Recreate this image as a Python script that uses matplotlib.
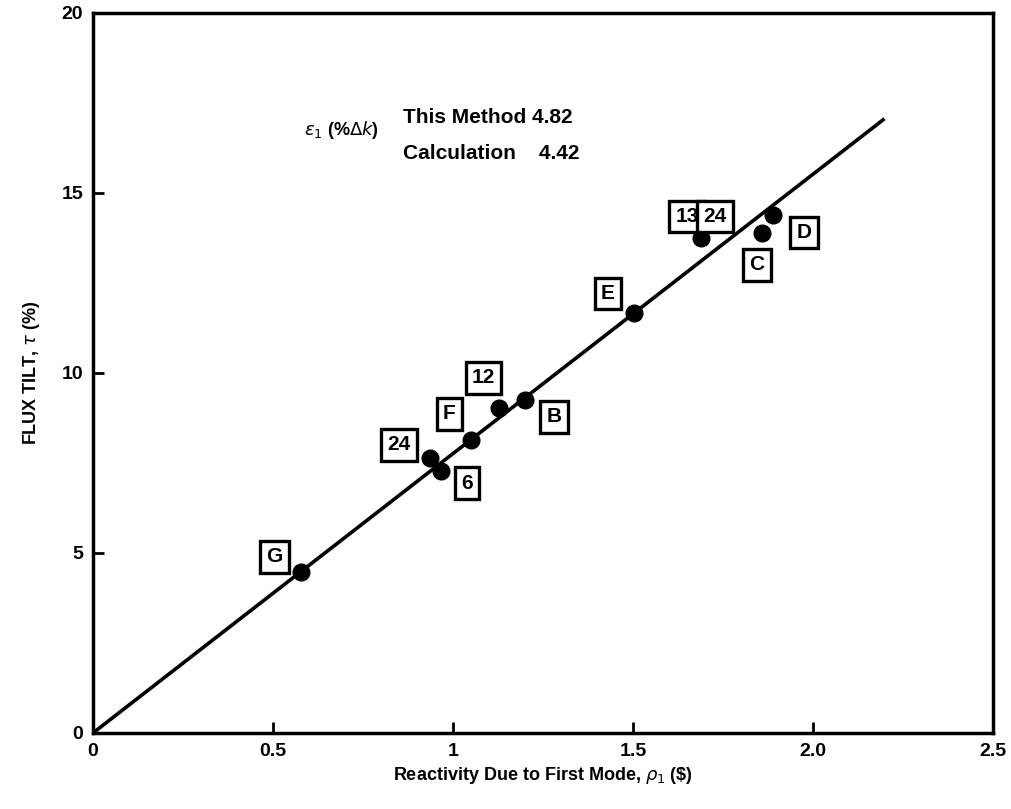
import matplotlib
matplotlib.use("Agg")
import matplotlib.pyplot as plt

plt.rcParams['font.family'] = ['Liberation Sans', 'DejaVu Sans']

# measured points (reactivity $, flux tilt %)
rho = [0.578, 0.937, 0.967, 1.05, 1.127, 1.20, 1.504, 1.69, 1.86, 1.89]
tilt = [4.47, 7.64, 7.28, 8.14, 9.03, 9.25, 11.67, 13.75, 13.9, 14.4]

# point labels and where their boxes sit
labels = ["G", "24", "6", "F", "12", "B", "E", "13", "24", "C", "D"]
label_x = [0.504, 0.85, 1.04, 0.99, 1.085, 1.28, 1.43, 1.65, 1.728, 1.845, 1.975]
label_y = [4.89, 8.0, 6.94, 8.86, 9.86, 8.78, 12.2, 14.35, 14.35, 13.0, 13.9]

# fitted line
fit_x = [0.0, 2.195]
fit_y = [0.0, 17.03]

fig = plt.figure(figsize=(10.11, 8.09), dpi=100)
ax = fig.add_axes([0.092, 0.094, 0.890, 0.890])

ax.plot(fit_x, fit_y, 'k-', lw=2.6)
ax.plot(rho, tilt, 'ko', ms=12)

for lab, lx, ly in zip(labels, label_x, label_y):
    ax.text(lx, ly, lab, ha='center', va='center', fontsize=15, fontweight='bold',
            bbox=dict(boxstyle='square,pad=0.3', fc='white', ec='black', lw=2.4))

ax.text(0.69, 16.75, r"$\epsilon_1$ (%$\Delta k$)", ha='center', va='center',
        fontsize=13, fontweight='bold')
ax.text(0.86, 17.1, "This Method 4.82", ha='left', va='center', fontsize=15, fontweight='bold')
ax.text(0.86, 16.1, "Calculation    4.42", ha='left', va='center', fontsize=15, fontweight='bold')

ax.set_xlim(0, 2.5)
ax.set_ylim(0, 20)
ax.set_xticks([0, 0.5, 1, 1.5, 2.0, 2.5])
ax.set_xticklabels(["0", "0.5", "1", "1.5", "2.0", "2.5"])
ax.set_yticks([0, 5, 10, 15, 20])
ax.tick_params(direction='in', length=8, width=2, labelsize=14, pad=7)
for lab in ax.get_xticklabels() + ax.get_yticklabels():
    lab.set_fontweight('bold')
for sp in ax.spines.values():
    sp.set_linewidth(2.5)

ax.set_xlabel(r"Reactivity Due to First Mode, $\rho_1$ (\$)", fontsize=13, fontweight='bold')
ax.set_ylabel(r"FLUX TILT, $\tau$ (%)", fontsize=13, fontweight='bold', labelpad=14)

fig.savefig("out.png", dpi=100)
